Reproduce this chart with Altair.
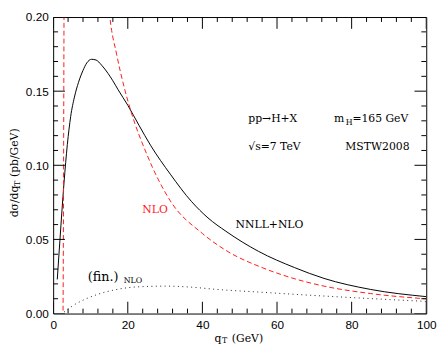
import altair as alt
import pandas as pd

W, H = 380, 302

# ---- data ----
nnll_q = [1.1, 1.8, 2.9, 3.8, 4.7, 5.7, 6.8, 8.0, 9.0, 10.3, 11.5, 13.0, 14.7, 16.0, 17.4,
          20.0, 23.0, 26.1, 31.4, 37.1, 41.5, 46.3, 55.0, 64.7, 72.6, 85.0, 100.0]
nnll_v = [0.023, 0.049, 0.088, 0.114, 0.133, 0.146, 0.156, 0.164, 0.169, 0.1715, 0.171,
          0.1675, 0.162, 0.157, 0.151, 0.1405, 0.127, 0.1135, 0.094, 0.0755, 0.0645, 0.0555,
          0.042, 0.031, 0.0237, 0.0163, 0.0114]

nlo_q = [2.65, 2.75, 2.85, 2.95, 3.2, 4.0, 6.0, 9.0, 12.0, 14.0, 15.2, 17.0, 19.1, 20.9,
         25.0, 31.4, 40.0, 46.3, 56.0, 64.0, 72.6, 85.0, 100.0]
nlo_v = [0.002, 0.06, 0.15, 0.24, 0.38, 0.55, 0.6, 0.45, 0.29, 0.235, 0.2, 0.175, 0.152, 0.136,
         0.108, 0.076, 0.054, 0.0426, 0.031, 0.024, 0.0185, 0.0135, 0.0099]

fin_q = [2.9, 3.5, 5.1, 8.0, 12.0, 16.0, 22.6, 30.0, 37.0, 43.7, 55.0, 72.6, 85.0, 100.0]
fin_v = [0.001, 0.002, 0.005, 0.009, 0.013, 0.0157, 0.018, 0.0185, 0.0178, 0.0163, 0.0145,
         0.0118, 0.0101, 0.0082]

x_major = [0, 20, 40, 60, 80, 100]
x_minor = [4, 8, 12, 16, 24, 28, 32, 36, 44, 48, 52, 56, 64, 68, 72, 76,
           84, 88, 92, 96]
y_major = [0.0, 0.05, 0.10, 0.15, 0.20]
y_minor = [0.01, 0.02, 0.03, 0.04, 0.06, 0.07, 0.08, 0.09, 0.11, 0.12, 0.13, 0.14,
           0.16, 0.17, 0.18, 0.19]

# annotations (data coordinates)
ann_q = [52.3, 52.3, 78.3, 48.9]
ann_v = [0.131, 0.1125, 0.1125, 0.0594]
ann_t = ["pp\u2192H+X", "\u221as=7 TeV", "MSTW2008", "NNLL+NLO"]

SERIF = "DejaVu Serif"
SANS = "Liberation Sans"
RED = "#ff1a1a"

X0, X1, Y0, Y1 = 0.0, 100.0, 0.0, 0.2
xs = alt.Scale(domain=[X0, X1], nice=False, zero=False)
ys = alt.Scale(domain=[Y0, Y1], nice=False, zero=False)

xaxis = alt.Axis(orient="bottom", values=x_major, title=None, ticks=False, domain=False,
                 grid=False, labelFont=SANS, labelFontSize=12, labelColor="black",
                 labelPadding=6, labelFlush=False, format="d")
yaxis = alt.Axis(orient="left", values=y_major, title=None, ticks=False, domain=False,
                 grid=False, labelFont=SANS, labelFontSize=12, labelColor="black",
                 labelPadding=5, labelFlush=False, format=".2f")


def enc(xa=None, ya=None):
    return dict(x=alt.X("q:Q", scale=xs, axis=xa), y=alt.Y("v:Q", scale=ys, axis=ya))


black = alt.Chart(pd.DataFrame({"q": nnll_q, "v": nnll_v})).mark_line(
    color="black", strokeWidth=1, clip=True, interpolate="monotone"
).encode(**enc(xaxis, yaxis))

red = alt.Chart(pd.DataFrame({"q": nlo_q, "v": nlo_v})).mark_line(
    color=RED, strokeWidth=1, strokeDash=[5, 3], clip=True, interpolate="monotone"
).encode(**enc())

dotted = alt.Chart(pd.DataFrame({"q": fin_q, "v": fin_v})).mark_line(
    color="#222222", strokeWidth=1, strokeDash=[1, 3.5], clip=True, interpolate="monotone"
).encode(**enc())

# inward tick marks on all four sides, drawn as short segments through the scales
MAJ, MIN = 12, 5  # tick lengths in pixels
rows = []
k = 0
for vals, L in ((x_major, MAJ), (x_minor, MIN)):
    dy = L / H * (Y1 - Y0)
    for q in vals:
        rows += [(k, 0, q, Y0), (k, 1, q, Y0 + dy)]
        k += 1
        rows += [(k, 0, q, Y1), (k, 1, q, Y1 - dy)]
        k += 1
for vals, L in ((y_major, MAJ), (y_minor, MIN)):
    dx = L / W * (X1 - X0)
    for v in vals:
        rows += [(k, 0, X0, v), (k, 1, X0 + dx, v)]
        k += 1
        rows += [(k, 0, X1, v), (k, 1, X1 - dx, v)]
        k += 1
tick_df = pd.DataFrame(rows, columns=["id", "o", "q", "v"])

ticks = alt.Chart(tick_df).mark_line(color="black", strokeWidth=1, clip=True).encode(
    detail="id:N", order="o:Q", **enc())

ann = alt.Chart(pd.DataFrame({"q": ann_q, "v": ann_v, "t": ann_t})).mark_text(
    font=SERIF, fontSize=11, align="left", baseline="middle", color="black"
).encode(text="t:N", **enc())


def txt(q, v, t, size=11, color="black"):
    return alt.Chart(pd.DataFrame({"q": [q], "v": [v], "t": [t]})).mark_text(
        font=SERIF, fontSize=size, align="left", baseline="middle", color=color
    ).encode(text="t:N", **enc())


extra = [
    txt(75.3, 0.131, "m"),
    txt(78.4, 0.1288, "H", size=8),
    txt(80.2, 0.131, "=165 GeV"),
    txt(23.9, 0.0695, "NLO", color=RED),
    txt(9.3, 0.0245, "(fin.)", size=13),
    txt(18.9, 0.0222, "NLO", size=8),
]


def ptxt(x, y, t, size=11, angle=0):
    return alt.Chart(pd.DataFrame({"t": [t]})).mark_text(
        font=SERIF, fontSize=size, align="left", baseline="middle", color="black", angle=angle
    ).encode(x=alt.value(x), y=alt.value(y), text="t:N")


titles = [
    ptxt(164.3, 327.7, "q"),
    ptxt(172.0, 330.3, "T", size=8),
    ptxt(182.0, 327.7, "(GeV)"),
    ptxt(-39, 204, "d\u03c3/dq", angle=270),
    ptxt(-35.5, 172, "T", size=8, angle=270),
    ptxt(-39, 163, "(pb/GeV)", angle=270),
]

chart = alt.layer(black, red, dotted, ticks, ann, *extra, *titles).resolve_axis(
    x="independent", y="independent"
).properties(
    width=W, height=H,
    autosize=alt.AutoSizeParams(type="none"),
    padding={"left": 46, "top": 6, "right": 14, "bottom": 38},
).configure_view(stroke="black", strokeWidth=1)

chart.save("out.html", embed_options={"renderer": "svg", "actions": False})
